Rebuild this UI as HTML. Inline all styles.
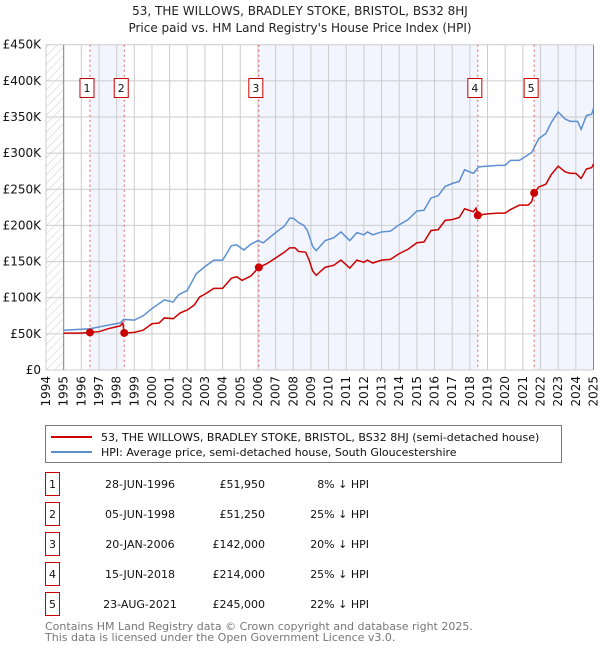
<!DOCTYPE html>
<html><head><meta charset="utf-8"><style>
body{margin:0;background:#fff;font-family:"DejaVu Sans","Liberation Sans",sans-serif;}
svg text{font-family:"DejaVu Sans","Liberation Sans",sans-serif;}
</style></head><body>
<svg id="chart" width="600" height="650" viewBox="0 0 600 650" xmlns="http://www.w3.org/2000/svg">
<defs><pattern id="hatch" width="6" height="6" patternUnits="userSpaceOnUse" patternTransform="rotate(45)"><line x1="0" y1="0" x2="0" y2="6" stroke="#ccc" stroke-width="1"/></pattern></defs>
<text x="300" y="15" text-anchor="middle" font-size="12" fill="#222">53, THE WILLOWS, BRADLEY STOKE, BRISTOL, BS32 8HJ</text>
<text x="300" y="32" text-anchor="middle" font-size="12" fill="#222">Price paid vs. HM Land Registry's House Price Index (HPI)</text>
<g id="plot"></g>
<g>
<rect x="45.5" y="425.5" width="516" height="37" fill="#fff" stroke="#777"/>
<line x1="51" y1="437" x2="92" y2="437" stroke="#cc0000" stroke-width="2"/>
<text x="101" y="441" font-size="11" fill="#111">53, THE WILLOWS, BRADLEY STOKE, BRISTOL, BS32 8HJ (semi-detached house)</text>
<line x1="51" y1="452" x2="92" y2="452" stroke="#5b8fd0" stroke-width="2"/>
<text x="101" y="456" font-size="11" fill="#111">HPI: Average price, semi-detached house, South Gloucestershire</text>
</g>
<g id="table" font-size="11" fill="#111"></g>
<text x="45" y="630" font-size="11" fill="#777">Contains HM Land Registry data © Crown copyright and database right 2025.</text>
<text x="45" y="641" font-size="11" fill="#777">This data is licensed under the Open Government Licence v3.0.</text>
</svg>
<script>
const hpiYears=[1995,1996.5,1997.5,1998.2,1998.4,1999,1999.5,2000,2000.7,2001.2,2001.5,2002,2002.5,2003,2003.5,2004,2004.5,2004.8,2005.2,2005.6,2006,2006.3,2007,2007.5,2007.8,2008,2008.3,2008.6,2008.8,2009.1,2009.3,2009.8,2010.3,2010.7,2011.2,2011.6,2012,2012.2,2012.5,2013,2013.5,2014,2014.5,2015,2015.4,2015.8,2016.2,2016.6,2017,2017.4,2017.7,2018.2,2018.5,2019,2019.6,2020,2020.3,2020.8,2021.2,2021.5,2021.9,2022.3,2022.6,2023,2023.4,2023.7,2024.1,2024.3,2024.6,2024.9,2025];
const hpiValues=[55,57,62,65,70,69,75,85,97,94,104,110,133,143,152,152,172,173,166,174,179,176,190,199,210,210,204,200,193,171,165,179,183,191,179,190,187,191,187,191,192,201,208,220,221,238,241,254,258,261,277,272,281,282,283,283,290,290,296,301,320,327,342,357,347,344,344,333,352,354,362];
const ppYears=[1995,1996,1996.49,1997,1997.5,1998.2,1998.35,1998.43,1999,1999.5,2000,2000.4,2000.7,2001.2,2001.6,2002,2002.4,2002.7,2003,2003.5,2004,2004.5,2004.8,2005.1,2005.6,2006.05,2006.5,2007,2007.5,2007.8,2008.1,2008.3,2008.7,2008.9,2009.1,2009.3,2009.8,2010.3,2010.7,2011.2,2011.6,2012,2012.2,2012.5,2013,2013.5,2014,2014.5,2015,2015.4,2015.8,2016.2,2016.6,2017,2017.4,2017.7,2018.2,2018.35,2018.45,2019,2019.6,2020,2020.3,2020.8,2021.3,2021.5,2021.64,2021.9,2022.3,2022.6,2023,2023.4,2023.7,2024,2024.3,2024.6,2024.9,2025];
const ppValues=[51,51,52,53,57,61,65,51,52,55,64,65,72,71,79,83,90,101,105,113,113,127,129,124,130,142,147,155,163,169,169,164,163,152,137,131,142,145,152,141,152,149,152,148,152,153,161,167,176,177,193,194,207,208,211,223,219,224,214,216,217,217,222,228,228,233,245,253,257,270,282,274,272,272,265,278,280,285];
const saleLabels=["1","2","3","4","5"];
const saleYears=[1996.49,1998.43,2006.05,2018.45,2021.64];
const saleValues=[51.95,51.25,142,214,245];
const saleDates=["28-JUN-1996","05-JUN-1998","20-JAN-2006","15-JUN-2018","23-AUG-2021"];
const salePrices=["£51,950","£51,250","£142,000","£214,000","£245,000"];
const saleDiffs=["8% ↓ HPI","25% ↓ HPI","20% ↓ HPI","25% ↓ HPI","22% ↓ HPI"];
const yTicks=[0,50,100,150,200,250,300,350,400,450];
const yTickLabels=["£0","£50K","£100K","£150K","£200K","£250K","£300K","£350K","£400K","£450K"];
const xTicks=[1994,1995,1996,1997,1998,1999,2000,2001,2002,2003,2004,2005,2006,2007,2008,2009,2010,2011,2012,2013,2014,2015,2016,2017,2018,2019,2020,2021,2022,2023,2024,2025];

const NS="http://www.w3.org/2000/svg";
const L=46,R=593.5,T=44.7,B=370;
const x=y=>L+(y-1994)*(R-L)/31;
const yv=v=>B-v*(B-T)/450;
const plot=document.getElementById('plot');
function mk(tag,attrs,parent){const e=document.createElementNS(NS,tag);for(const k in attrs)e.setAttribute(k,attrs[k]);(parent||plot).appendChild(e);return e;}

// shaded bands
const bands=[[saleYears[0],saleYears[1]],[saleYears[2],saleYears[3]],[saleYears[4],2025]];
bands.forEach(b=>{const r=mk('rect',{x:x(b[0]),y:T,width:x(b[1])-x(b[0]),height:B-T,fill:'#f2f5fd'});

});
const hz=mk('rect',{x:L,y:T,width:x(1995)-L,height:B-T,fill:'url(#hatch)'});


// grid
xTicks.forEach(t=>{const g=mk('line',{x1:x(t),x2:x(t),y1:T,y2:B,stroke:'#ccc','stroke-width':1});


const tx=mk('text',{x:0,y:0,'font-size':12,fill:'#111','text-anchor':'end',transform:`translate(${x(t)+4},${B+6}) rotate(-90)`});
tx.textContent=t;

});
yTicks.forEach((t,i)=>{const g=mk('line',{x1:L,x2:R,y1:yv(t),y2:yv(t),stroke:'#ccc','stroke-width':1});


const tx=mk('text',{x:L-5,y:yv(t)+4,'font-size':12,fill:'#111','text-anchor':'end'});
tx.textContent=yTickLabels[i];

});
const ax=mk('line',{x1:x(1995),x2:x(1995),y1:T,y2:B,stroke:'#888'});


const ax2=mk('line',{x1:R,x2:R,y1:T,y2:B,stroke:'#888'});


// sale vlines & labels
saleYears.forEach((s,i)=>{const l=mk('line',{x1:x(s),x2:x(s),y1:T,y2:B,stroke:'#e06060','stroke-dasharray':'2,3'});


const g=mk('g',{});


mk('rect',{x:x(s)-10,y:78.5,width:14,height:19,fill:'#fff',stroke:'#cc0000'},g);
const t=mk('text',{x:x(s)-3,y:92,'font-size':11,'text-anchor':'middle',fill:'#111'},g);t.textContent=saleLabels[i];});
// lines
const hp=mk('polyline',{points:hpiYears.map((y,i)=>x(y)+','+yv(hpiValues[i])).join(' '),fill:'none',stroke:'#5b8fd0','stroke-width':1.5});


const pp=mk('polyline',{points:ppYears.map((y,i)=>x(y)+','+yv(ppValues[i])).join(' '),fill:'none',stroke:'#cc0000','stroke-width':1.5});


saleYears.forEach((s,i)=>{const c=mk('circle',{cx:x(s),cy:yv(saleValues[i]),r:4,fill:'#cc0000'});

});
// table
const tb=document.getElementById('table');
saleLabels.forEach((lab,i)=>{const cy=484+i*30;
const g=mk('g',{},tb);


mk('rect',{x:45.5,y:cy-11.5,width:14,height:23,fill:'#fff',stroke:'#cc0000'},g);
let t=mk('text',{x:52.5,y:cy+4,'text-anchor':'middle'},g);t.textContent=lab;
t=mk('text',{x:140,y:cy+4,'text-anchor':'middle'},g);t.textContent=saleDates[i];
t=mk('text',{x:265,y:cy+4,'text-anchor':'end'},g);t.textContent=salePrices[i];
t=mk('text',{x:369,y:cy+4,'text-anchor':'end'},g);t.textContent=saleDiffs[i];});
</script>
</body></html>
